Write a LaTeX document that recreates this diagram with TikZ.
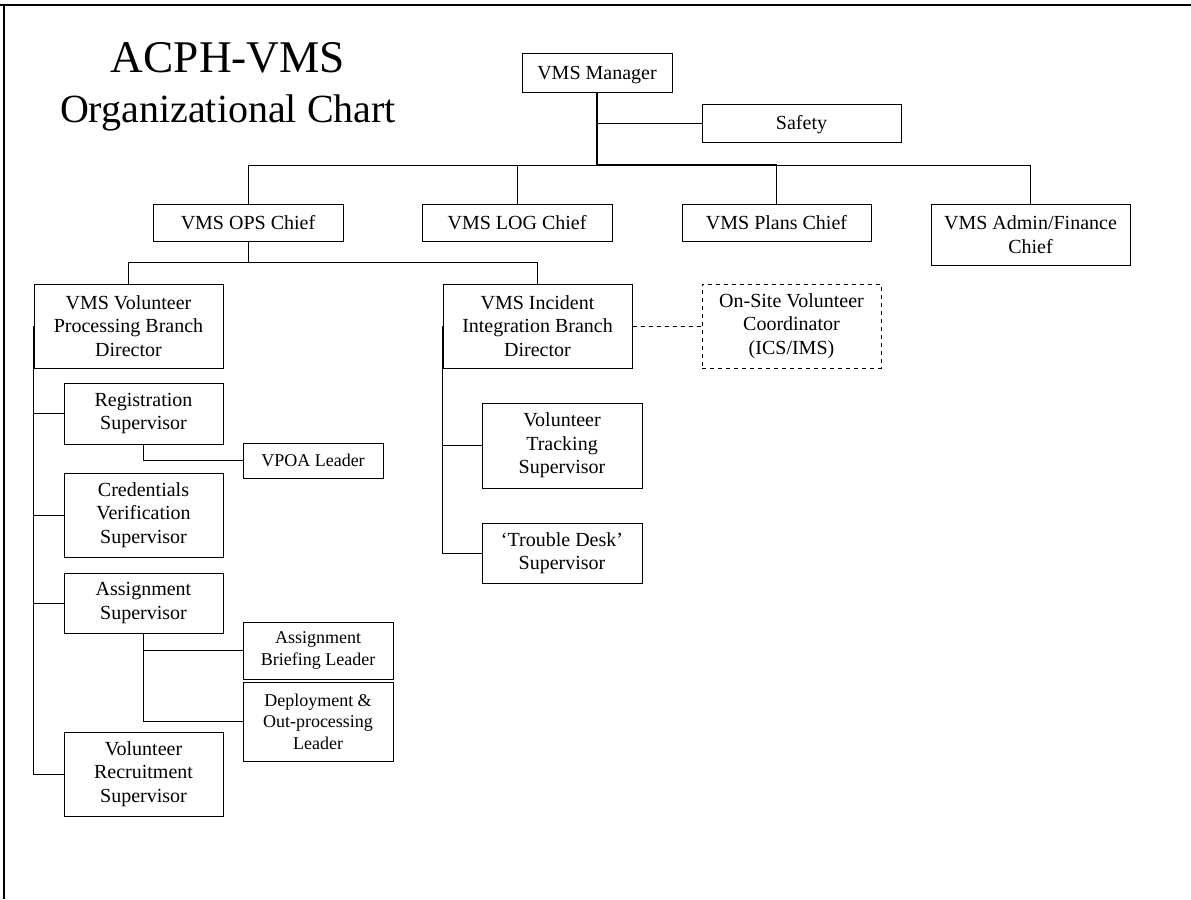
\documentclass[tikz,border=0pt]{standalone}
\usepackage{fontspec}
\setmainfont{Liberation Serif}
\usetikzlibrary{positioning}

\tikzset{
  boxbase/.style={draw, line width=0.75pt, inner sep=0pt,
    font=\fontsize{15}{17.5}\selectfont},
  role/.style={boxbase, align=center},
  lead/.style={role, font=\fontsize{13.5}{16}\selectfont},
  single/.style={boxbase, text height=9.9pt, text depth=0pt},
  link/.style={line width=0.75pt},
}

\begin{document}
\begin{tikzpicture}[x=0.75pt, y=-0.75pt]
\useasboundingbox (0,0) rectangle (1191,899);
\draw[line width=1.5pt] (0,5) -- (1191,5);
\draw[line width=1.5pt] (4,5) -- (4,899);

\node[anchor=base, font=\fontsize{34}{40}\selectfont] (title) at (228,73) {ACPH-VMS};
\node[anchor=base, font=\fontsize{30}{36}\selectfont] (subtitle) at (228,122) {Organizational Chart};

% command level
\node[single, minimum width=112.5pt, minimum height=28.5pt] (mgr) at (597,73) {VMS Manager};
\node[single, minimum width=149.25pt, minimum height=28.5pt] (safety) at (801.5,123) {Safety};

% section chiefs
\node[single, minimum width=142.5pt, minimum height=27.75pt] (ops) at (248,222.5) {VMS OPS Chief};
\node[single, minimum width=142.5pt, minimum height=27.75pt] (log) at (517,222.5) {VMS LOG Chief};
\node[single, minimum width=141.75pt, minimum height=27.75pt] (plans) at (776.5,222.5) {VMS Plans Chief};
\node[role, minimum width=149.25pt, minimum height=45.75pt] (admin) at (1030.5,234.5) {VMS Admin/Finance\\Chief};

% branches
\node[role, minimum width=141.75pt, minimum height=63pt] (volproc) at (128.5,326) {VMS Volunteer\\Processing Branch\\Director};
\node[role, minimum width=141.75pt, minimum height=63pt] (incident) at (537.5,326) {VMS Incident\\Integration Branch\\Director};
\node[role, dashed, minimum width=134.25pt, minimum height=63pt] (onsite) at (791.5,326) {On-Site Volunteer\\Coordinator\\(ICS/IMS)};

% volunteer processing units
\node[role, minimum width=119.25pt, minimum height=45.75pt] (reg) at (143.5,413.5) {Registration\\Supervisor};
\node[single, font=\fontsize{13.5}{16}\selectfont, text height=8.9pt, minimum width=105pt, minimum height=26.25pt] (vpoa) at (313,460.5) {VPOA Leader};
\node[role, minimum width=119.25pt, minimum height=63pt] (cred) at (143.5,515) {Credentials\\Verification\\Supervisor};
\node[role, minimum width=119.25pt, minimum height=45pt] (assign) at (143.5,603) {Assignment\\Supervisor};
\node[lead, minimum width=112.5pt, minimum height=42.75pt] (brief) at (318,650.5) {Assignment\\Briefing Leader};
\node[lead, minimum width=112.5pt, minimum height=59.25pt] (deploy) at (318,721.5) {Deployment \&\\Out-processing\\Leader};
\node[role, minimum width=119.25pt, minimum height=63pt] (recruit) at (143.5,774) {Volunteer\\Recruitment\\Supervisor};

% incident integration units
\node[role, minimum width=120pt, minimum height=63.75pt] (tracking) at (562,445.5) {Volunteer\\Tracking\\Supervisor};
\node[role, minimum width=120pt, minimum height=45pt] (trouble) at (562,553) {`Trouble Desk'\\Supervisor};

% connectors
\coordinate (hub) at (597,165);
\coordinate (opshub) at (248,262);
\draw[line width=1.5pt] (mgr.south) -- (hub) -- (plans.north |- hub);
\draw[link] (safety.west) -| (mgr.south);
\draw[link] (ops.north) |- (hub);
\draw[link] (log.north) |- (hub);
\draw[link] (plans.north) |- (hub);
\draw[link] (admin.north) |- (hub);

\draw[link] (ops.south) -- (opshub);
\draw[link] (volproc.north) |- (opshub);
\draw[link] (incident.north) |- (opshub);
\draw[link, dashed] (incident.east) -- (onsite.west);

\draw[link] (volproc.west) |- (reg.west);
\draw[link] (volproc.west) |- (cred.west);
\draw[link] (volproc.west) |- (assign.west);
\draw[link] (volproc.west) |- (recruit.west);
\draw[link] (reg.south) |- (vpoa.west);
\draw[link] (assign.south) |- (brief.west);
\draw[link] (assign.south) |- (deploy.west);

\draw[link] (incident.west) |- (tracking.west);
\draw[link] (incident.west) |- (trouble.west);

\end{tikzpicture}
\end{document}
